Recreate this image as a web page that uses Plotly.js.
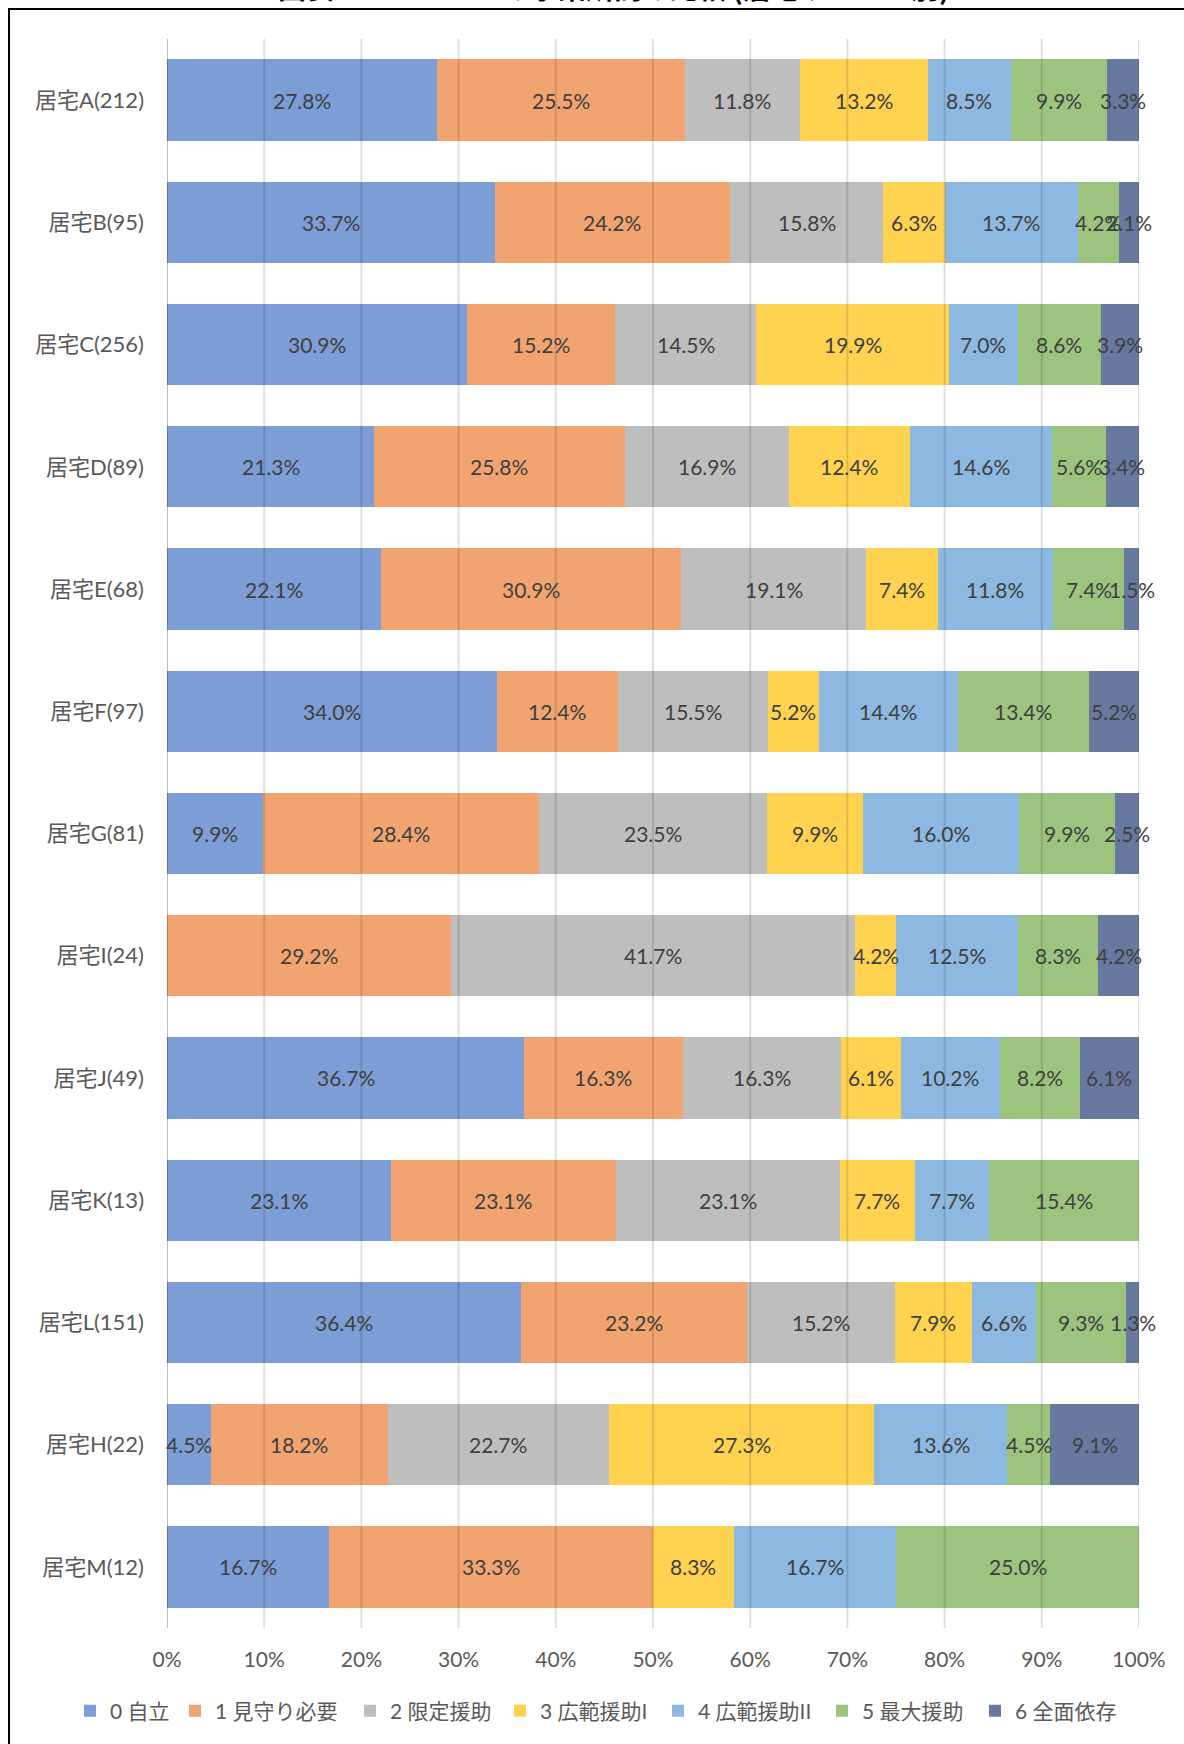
<!DOCTYPE html>
<html>
<head>
<meta charset="utf-8">
<script src="https://cdn.plot.ly/plotly-3.0.1.min.js"></script>
<style>
  html, body { margin: 0; padding: 0; background: #fff; }
  #frame { position: absolute; left: 8px; top: 8px; width: 1200px; height: 1760px;
           border-left: 2px solid #000; border-top: 2px solid #000; }
  #chart { position: absolute; left: 0; top: 0; width: 1184px; height: 1744px; }
</style>
</head>
<body>
<div id="frame"></div>
<div id="chart"></div>
<script>
const categories = ['居宅A(212)', '居宅B(95)', '居宅C(256)', '居宅D(89)', '居宅E(68)', '居宅F(97)',
  '居宅G(81)', '居宅I(24)', '居宅J(49)', '居宅K(13)', '居宅L(151)', '居宅H(22)', '居宅M(12)'];

const seriesNames = ['0 自立', '1 見守り必要', '2 限定援助', '3 広範援助I', '4 広範援助II', '5 最大援助', '6 全面依存'];

const s0 = [27.8, 33.7, 30.9, 21.3, 22.1, 34.0, 9.9, 0, 36.7, 23.1, 36.4, 4.5, 16.7];
const s1 = [25.5, 24.2, 15.2, 25.8, 30.9, 12.4, 28.4, 29.2, 16.3, 23.1, 23.2, 18.2, 33.3];
const s2 = [11.8, 15.8, 14.5, 16.9, 19.1, 15.5, 23.5, 41.7, 16.3, 23.1, 15.2, 22.7, 0];
const s3 = [13.2, 6.3, 19.9, 12.4, 7.4, 5.2, 9.9, 4.2, 6.1, 7.7, 7.9, 27.3, 8.3];
const s4 = [8.5, 13.7, 7.0, 14.6, 11.8, 14.4, 16.0, 12.5, 10.2, 7.7, 6.6, 13.6, 16.7];
const s5 = [9.9, 4.2, 8.6, 5.6, 7.4, 13.4, 9.9, 8.3, 8.2, 15.4, 9.3, 4.5, 25.0];
const s6 = [3.3, 2.1, 3.9, 3.4, 1.5, 5.2, 2.5, 4.2, 6.1, 0, 1.3, 9.1, 0];

const tickVals = [0, 10, 20, 30, 40, 50, 60, 70, 80, 90, 100];
const tickText = ['0%', '10%', '20%', '30%', '40%', '50%', '60%', '70%', '80%', '90%', '100%'];

const colors = ['#7C9DD5', '#F1A46F', '#BEBEBE', '#FFD24F', '#8DB8E1', '#9CC47E', '#67799F'];

const allSeries = [s0, s1, s2, s3, s4, s5, s6];
const FONT = '"Noto Sans CJK JP", sans-serif';
const NUMFONT = 'Lato, "Noto Sans CJK JP", sans-serif';

// legend entry left edges (px) – layout only
const legendLeft = [70, 175, 350, 500, 658, 822, 975];

const legendKey = i => (i === 0 ? 'legend' : 'legend' + (i + 1));

const traces = allSeries.map((vals, i) => ({
  type: 'bar',
  orientation: 'h',
  name: seriesNames[i],
  legend: legendKey(i),
  y: categories,
  x: vals,
  marker: { color: colors[i], line: { width: 0 } },
  hoverinfo: 'skip'
}));

// data labels centred in each (normalised) segment
const labelAnns = [];
categories.forEach((cat, r) => {
  const total = allSeries.reduce((a, s) => a + s[r], 0);
  let cum = 0;
  allSeries.forEach((s) => {
    const v = s[r];
    if (v > 0) {
      labelAnns.push({
        xref: 'x', yref: 'y', x: (cum + v / 2) / total * 100, y: cat,
        text: v.toFixed(1) + '%', showarrow: false,
        xanchor: 'center', yanchor: 'middle',
        font: { family: NUMFONT, size: 21, color: '#404040' }
      });
    }
    cum += v;
  });
});

const gridShapes = tickVals.map(v => ({
  type: 'line', xref: 'x', yref: 'paper', x0: v, x1: v, y0: 0, y1: 1,
  layer: 'above',
  line: { color: v === 0 ? 'rgba(0,0,0,0.25)' : 'rgba(0,0,0,0.12)', width: 2 }
}));

const layout = {
  width: 1184, height: 1744,
  margin: { l: 167, r: 45, t: 39, b: 116 },
  paper_bgcolor: 'rgba(0,0,0,0)',
  plot_bgcolor: 'rgba(0,0,0,0)',
  barmode: 'stack',
  barnorm: 'percent',
  bargap: 0.335,
  showlegend: true,
  font: { family: FONT, color: '#595959', size: 20 },
  xaxis: {
    range: [0, 100], tickvals: tickVals, ticktext: tickText,
    showgrid: false, zeroline: false, showline: false,
    ticks: '', ticklabelstandoff: 17,
    tickfont: { family: NUMFONT, size: 21, color: '#595959' },
    fixedrange: true
  },
  yaxis: {
    autorange: 'reversed', showgrid: false, zeroline: false, showline: false,
    ticks: '', ticklabelstandoff: 22,
    tickfont: { family: NUMFONT, size: 22, color: '#595959' },
    fixedrange: true
  },
  shapes: gridShapes,
  annotations: labelAnns.concat([{
    xref: 'paper', yref: 'paper', x: 0.46, y: 1, yanchor: 'bottom', xanchor: 'center',
    yshift: 30, showarrow: false,
    text: '<b>図表　　　　　　の事業所間の比較 (居宅サービス別)</b>',
    font: { family: '"Noto Sans CJK JP", sans-serif', size: 28, color: '#000' }
  }])
};

seriesNames.forEach((n, i) => {
  layout[legendKey(i)] = {
    orientation: 'h', xref: 'container', yref: 'container',
    x: legendLeft[i] / 1184, xanchor: 'left', y: 1 - 1711 / 1744, yanchor: 'middle',
    font: { family: NUMFONT, size: 21, color: '#595959' },
    itemwidth: 30, itemclick: false, itemdoubleclick: false,
    bgcolor: 'rgba(0,0,0,0)', borderwidth: 0
  };
});

Plotly.newPlot('chart', traces, layout, { displayModeBar: false, staticPlot: true });
</script>
</body>
</html>
